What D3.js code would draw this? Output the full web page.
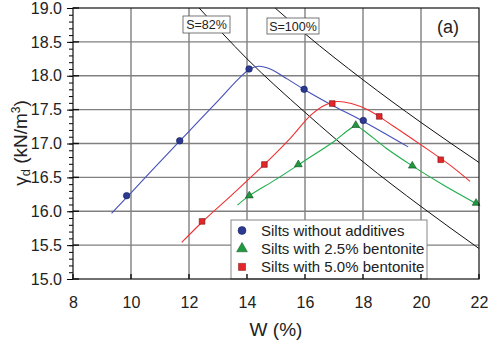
<!DOCTYPE html>
<html lang="en">
<head>
<meta charset="UTF-8">
<title>Compaction curves - silts</title>
<script src="https://d3js.org/d3.v7.min.js"></script>
<style>
    body { margin: 0; background: #fff; font-family: "Liberation Sans", Arial, sans-serif; }
    .tick text { fill: #222; }
</style>
</head>
<body>
<svg width="489" height="344"></svg>
<script>
// measured points
const silt0 = [[9.85, 16.23], [11.68, 17.04], [14.07, 18.1], [15.97, 17.8], [18.01, 17.34]];
const silt25 = [[14.08, 16.23], [15.77, 16.69], [17.75, 17.27], [19.7, 16.67], [21.9, 16.12]];
const silt50 = [[12.45, 15.85], [14.6, 16.69], [16.94, 17.59], [18.56, 17.4], [20.68, 16.76]];

// fitted curves
const fit0 = [[9.33, 15.97], [10, 16.27], [11, 16.73], [12, 17.18], [13, 17.63], [13.7, 17.95],
              [14.1, 18.1], [14.4, 18.14], [14.8, 18.1], [15.4, 17.95], [16, 17.79], [17, 17.55],
              [18, 17.33], [19.56, 16.95]];
const fit25 = [[13.67, 16.09], [14.08, 16.23], [15, 16.47], [16, 16.75], [17, 17.03], [17.5, 17.2],
               [17.75, 17.26], [18, 17.2], [18.8, 16.93], [19.7, 16.67], [20.8, 16.38], [22, 16.09]];
const fit50 = [[11.75, 15.54], [12.5, 15.86], [13.5, 16.25], [14.5, 16.65], [15.5, 17.08], [16.2, 17.42],
               [16.7, 17.57], [17.1, 17.62], [17.6, 17.59], [18.2, 17.49], [19, 17.27], [20, 16.98],
               [21, 16.68], [21.69, 16.44]];

// saturation lines
const sat82 = [[12.35, 19.0], [14, 18.25], [16, 17.46], [18, 16.73], [20, 16.07], [22, 15.45]];
const sat100 = [[14.97, 19.0], [16, 18.62], [18, 17.94], [20, 17.31], [22, 16.72]];

const xTicks = [8, 10, 12, 14, 16, 18, 20, 22];
const yTicks = [15.0, 15.5, 16.0, 16.5, 17.0, 17.5, 18.0, 18.5, 19.0];
const legendNames = ["Silts without additives", "Silts with 2.5% bentonite", "Silts with 5.0% bentonite"];

const svg = d3.select("svg"),
      margin = { top: 8, right: 10, bottom: 65, left: 73 },
      width = +svg.attr("width") - margin.left - margin.right,
      height = +svg.attr("height") - margin.top - margin.bottom,
      g = svg.append("g").attr("transform", `translate(${margin.left},${margin.top})`);

const x = d3.scaleLinear().domain([8, 22]).range([0, width]);
const y = d3.scaleLinear().domain([15, 19]).range([height, 0]);

// grid
g.append("g").selectAll("line").data(xTicks.slice(1, -1)).enter().append("line")
    .attr("x1", d => x(d)).attr("x2", d => x(d)).attr("y1", 0).attr("y2", height)
    .attr("stroke", "#808080").attr("stroke-width", 1.4);
g.append("g").selectAll("line").data(yTicks.slice(1, -1)).enter().append("line")
    .attr("x1", 0).attr("x2", width).attr("y1", d => y(d)).attr("y2", d => y(d))
    .attr("stroke", "#808080").attr("stroke-width", 1.4);

// saturation lines
const satLine = d3.line().x(d => x(d[0])).y(d => y(d[1])).curve(d3.curveMonotoneX);
[sat82, sat100].forEach(s => {
    g.append("path").datum(s).attr("d", satLine)
        .attr("fill", "none").attr("stroke", "#111").attr("stroke-width", 1);
});

// fitted curves
const fitLine = d3.line().x(d => x(d[0])).y(d => y(d[1])).curve(d3.curveCatmullRom);
const series = [
    { fit: fit0, pts: silt0, line: "#4450b8", fill: "#2b3990", stroke: "#141c5c", shape: d3.symbolCircle, size: 34 },
    { fit: fit25, pts: silt25, line: "#1fae4b", fill: "#1f9a3e", stroke: "#0d4a1c", shape: d3.symbolTriangle, size: 26 },
    { fit: fit50, pts: silt50, line: "#f03030", fill: "#e3262a", stroke: "#7a1010", shape: d3.symbolSquare, size: 32 }
];
series.forEach(s => {
    g.append("path").datum(s.fit).attr("d", fitLine)
        .attr("fill", "none").attr("stroke", s.line).attr("stroke-width", 1.1);
});
series.forEach(s => {
    g.selectAll(null).data(s.pts).enter().append("path")
        .attr("d", d3.symbol().type(s.shape).size(s.size))
        .attr("transform", d => `translate(${x(d[0])},${y(d[1])})`)
        .attr("fill", s.fill).attr("stroke", s.stroke).attr("stroke-width", 0.6);
});

// S labels
const boxes = [
    { text: "S=82%", x: 110, y: 8, w: 47, h: 17 },
    { text: "S=100%", x: 194, y: 10, w: 52, h: 16 }
];
boxes.forEach(b => {
    g.append("rect").attr("x", b.x).attr("y", b.y).attr("width", b.w).attr("height", b.h)
        .attr("fill", "#fff").attr("stroke", "#555").attr("stroke-width", 0.8);
    g.append("text").attr("x", b.x + b.w / 2).attr("y", b.y + b.h / 2 + 4.5)
        .attr("text-anchor", "middle").attr("font-size", 12.5).attr("fill", "#222").text(b.text);
});

g.append("text").attr("x", 364).attr("y", 25).attr("font-size", 18).attr("fill", "#222").text("(a)");

// legend
const lg = g.append("g").attr("transform", "translate(158,212)");
lg.append("rect").attr("width", 196).attr("height", 59)
    .attr("fill", "#fff").attr("stroke", "#888").attr("stroke-width", 1);
legendNames.forEach((name, i) => {
    const s = series[i];
    lg.append("path").attr("d", d3.symbol().type(s.shape).size(50))
        .attr("transform", `translate(11,${10.5 + i * 18.2})`)
        .attr("fill", s.fill).attr("stroke", s.stroke).attr("stroke-width", 0.5);
    lg.append("text").attr("x", 30).attr("y", 15.5 + i * 18.2)
        .attr("font-size", 15).attr("fill", "#222").text(name);
});

// axes
const yAxis = g.append("g").call(d3.axisLeft(y).tickValues(yTicks).tickSize(6).tickPadding(5)
    .tickFormat(d3.format(".1f")));
yAxis.selectAll("text").attr("font-size", 16).attr("font-family", "Liberation Sans, Arial, sans-serif");
yAxis.select(".domain").remove();
g.append("g").call(d3.axisLeft(y).ticks(40).tickSize(4).tickFormat(""))
    .select(".domain").remove();

const xAxis = g.append("g").attr("transform", `translate(0,${height})`)
    .call(d3.axisBottom(x).tickValues(xTicks).tickSize(0).tickPadding(18));
xAxis.selectAll("text").attr("font-size", 16).attr("font-family", "Liberation Sans, Arial, sans-serif");
xAxis.select(".domain").remove();
g.append("g").selectAll("line").data(xTicks).enter().append("line")
    .attr("x1", d => x(d)).attr("x2", d => x(d)).attr("y1", height).attr("y2", height - 5)
    .attr("stroke", "#111").attr("stroke-width", 1.4);
g.append("g").selectAll("line").data(yTicks).enter().append("line")
    .attr("x1", 0).attr("x2", 6).attr("y1", d => y(d)).attr("y2", d => y(d))
    .attr("stroke", "#111").attr("stroke-width", 1.4);

g.append("rect").attr("width", width).attr("height", height)
    .attr("fill", "none").attr("stroke", "#111").attr("stroke-width", 1.2);

// titles
svg.append("text").attr("x", margin.left + width / 2).attr("y", 336)
    .attr("text-anchor", "middle").attr("font-size", 19).attr("fill", "#222").text("W (%)");
const yt = svg.append("text").attr("transform", "translate(27,143) rotate(-90)")
    .attr("text-anchor", "middle").attr("font-size", 19).attr("fill", "#222");
yt.append("tspan").text("γ");
yt.append("tspan").attr("font-size", 13).attr("dy", 3).text("d");
yt.append("tspan").attr("dy", -3).text(" (kN/m");
yt.append("tspan").attr("font-size", 12).attr("dy", -7).text("3");
yt.append("tspan").attr("dy", 7).text(")");
</script>
</body>
</html>
